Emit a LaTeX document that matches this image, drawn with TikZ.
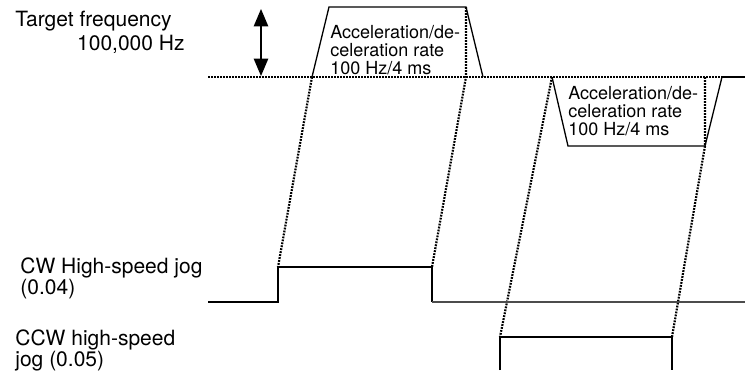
\documentclass[tikz,border=0pt]{standalone}
\usepackage{fontspec}
\setmainfont{TeX Gyre Heros}
\usetikzlibrary{arrows}
\tikzstyle{textbox} = [
    inner sep=0pt,
    align=left,
    font=\fontsize{9}{9}\selectfont
]
\tikzstyle{sidetext} = [
    inner sep=0pt,
    align=left,
    font=\fontsize{10.5}{10.5}\selectfont
]
\tikzstyle{profile} = [line width=0.65pt]
\tikzstyle{guide} = [line width=1.1pt, dash pattern=on 0.9pt off 0.6pt]
\tikzstyle{signal} = [line width=0.7pt]
\tikzstyle{arrow} = [line width=1pt,<->,>=triangle 45]

\begin{document}
\begin{tikzpicture}[x=0.5pt, y=-0.5pt]
\useasboundingbox (0,0) rectangle (745,370);

\node (target) [sidetext, anchor=base west] at (15,26.5) {Target frequency};
\node (value) [sidetext, anchor=base east] at (185,50) {100,000 Hz};

\node (accel) [textbox, anchor=north west] at (330,25) 
{Acceleration/de-\\celeration rate\\100 Hz/4 ms};
\node (decel) [textbox, anchor=north west] at (568,86) 
{Acceleration/de-\\celeration rate\\100 Hz/4 ms};

\node (cw) [sidetext, anchor=north west] at (20,257) 
{CW High-speed jog\\(0.04)};
\node (ccw) [sidetext, anchor=north west, font=\fontsize{10.5}{9}\selectfont] at (15,329) 
{CCW high-speed\\jog (0.05)};

% frequency
\draw [guide] (208,77) -- (722,77);
\draw [profile] (722,77) -- (745,77);
\draw [profile] (312,77) -- (329,7) -- (466,7) -- (483,77);
\draw [profile] (552,77) -- (568,146) -- (705,146) -- (722,77);
\draw [arrow] (261,9) -- (261,76);

% timing
\draw [guide] (312,77) -- (278,267);
\draw [guide] (466,7) -- (466,77) -- (432,267);
\draw [guide] (552,77) -- (500,337);
\draw [guide] (705,77) -- (705,146) -- (672,337);

% jog bits
\draw [signal] (208,302) -- (278,302) -- (278,267) -- (432,267) -- (432,302);
\draw [signal, line width=1pt, black!70] (432,302) -- (745,302);
\draw [signal] (500,370) -- (500,337) -- (672,337) -- (672,370);

\end{tikzpicture}
\end{document}
